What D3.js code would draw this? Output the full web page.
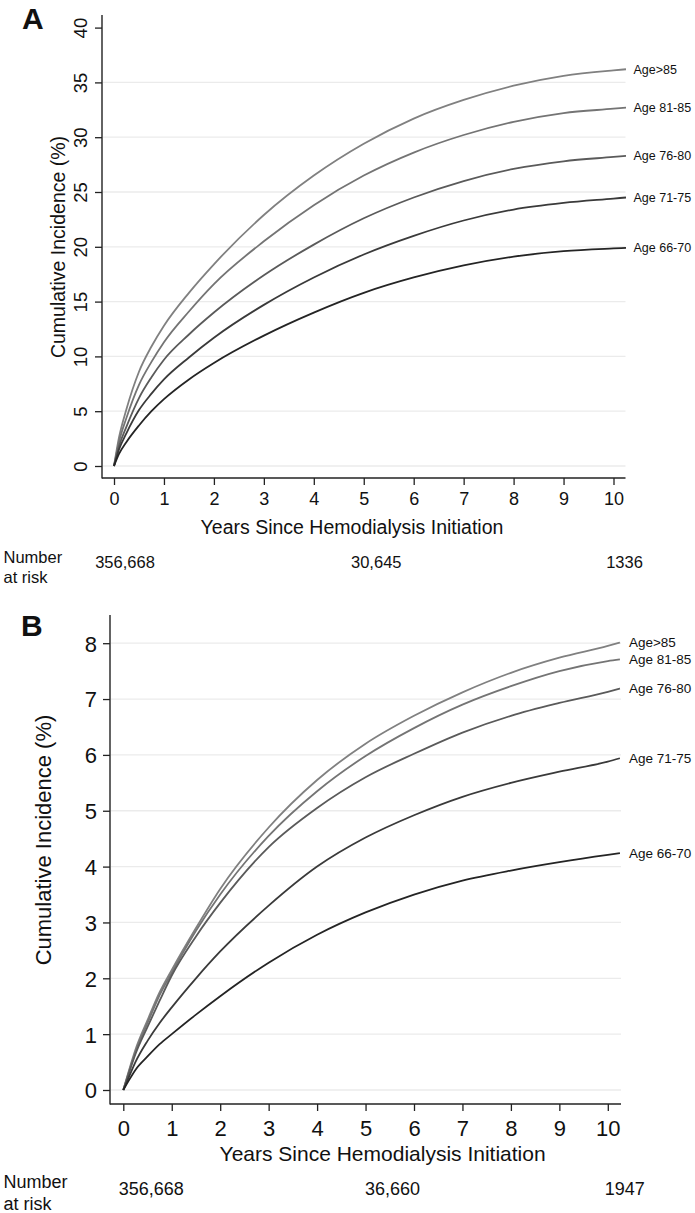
<!DOCTYPE html>
<html><head><meta charset="utf-8">
<script src="https://cdn.jsdelivr.net/npm/d3@7"></script>
<style>
body{margin:0;background:#fff}
svg{display:block}
text{font-family:"Liberation Sans",Arial,Helvetica,sans-serif;fill:#111}
</style>
</head><body>
<svg id="c" width="695" height="1213"></svg>
<script>
// ---------- DATA ----------
const years = [0, 0.1, 0.25, 0.5, 0.75, 1, 1.5, 2, 3, 4, 5, 6, 7, 8, 9, 10, 10.25];
const seriesLabels = ["Age>85", "Age 81-85", "Age 76-80", "Age 71-75", "Age 66-70"];
const xTicks = [0, 1, 2, 3, 4, 5, 6, 7, 8, 9, 10];

// Panel A (cumulative incidence %)
const aAge85   = [0, 2.6, 5.2, 8.6, 10.9, 12.8, 15.8, 18.4, 22.9, 26.5, 29.4, 31.7, 33.4, 34.7, 35.6, 36.1, 36.2];
const aAge8185 = [0, 2.2, 4.4, 7.4, 9.5, 11.3, 14.1, 16.6, 20.5, 23.8, 26.5, 28.6, 30.2, 31.4, 32.2, 32.6, 32.7];
const aAge7680 = [0, 1.8, 3.6, 6.2, 8.1, 9.7, 12.0, 14.0, 17.4, 20.2, 22.6, 24.5, 26.0, 27.1, 27.8, 28.2, 28.3];
const aAge7175 = [0, 1.5, 3.0, 5.1, 6.6, 7.9, 9.9, 11.7, 14.7, 17.2, 19.3, 21.0, 22.4, 23.4, 24.0, 24.4, 24.5];
const aAge6670 = [0, 1.1, 2.2, 3.7, 5.0, 6.1, 7.9, 9.4, 11.9, 14.0, 15.8, 17.2, 18.3, 19.1, 19.6, 19.85, 19.9];
const aYTicks = [0, 5, 10, 15, 20, 25, 30, 35, 40];
const aGrid = [0, 5, 10, 15, 20, 25, 30, 35];
const aRisk = ["356,668", "30,645", "1336"];

// Panel B (cumulative incidence %)
const bAge85   = [0, 0.3, 0.72, 1.25, 1.75, 2.15, 2.9, 3.6, 4.7, 5.55, 6.2, 6.7, 7.12, 7.47, 7.74, 7.95, 8.01];
const bAge8185 = [0, 0.28, 0.68, 1.2, 1.7, 2.1, 2.85, 3.5, 4.55, 5.35, 5.98, 6.48, 6.9, 7.23, 7.5, 7.68, 7.71];
const bAge7680 = [0, 0.26, 0.64, 1.13, 1.6, 2.05, 2.75, 3.35, 4.35, 5.05, 5.6, 6.02, 6.4, 6.7, 6.93, 7.13, 7.19];
const bAge7175 = [0, 0.2, 0.5, 0.88, 1.2, 1.48, 2.0, 2.48, 3.3, 4.0, 4.52, 4.92, 5.25, 5.5, 5.7, 5.88, 5.94];
const bAge6670 = [0, 0.15, 0.36, 0.6, 0.82, 1.0, 1.35, 1.68, 2.28, 2.78, 3.18, 3.5, 3.75, 3.93, 4.08, 4.21, 4.24];
const bYTicks = [0, 1, 2, 3, 4, 5, 6, 7, 8];
const bGrid = [0, 1, 2, 3, 4, 5, 6, 7, 8];
const bRisk = ["356,668", "36,660", "1947"];

const riskYears = [0, 5, 10];

// ---------- STYLE / LAYOUT ----------
const seriesColors = ["#808080", "#747474", "#5a5a5a", "#3a3a3a", "#242424"];

const panels = [
  {
    letter: "A", letterX: 22, letterY: 29,
    series: [aAge85, aAge8185, aAge7680, aAge7175, aAge6670],
    yDomain: [0, 40], yRange: [466, 27.6], xRange: [114, 613.5],
    frame: {left: 102, top: 15, bottom: 478, right: 625.5},
    yTicks: aYTicks, grid: aGrid, rotateY: true,
    yTickFont: 18.5, yTickBaseX: 87,
    xTickFont: 18, xTickBase: 505,
    xTitleFont: 19.5, xTitleX: 352, xTitleBase: 534,
    yTitleFont: 19.5, yTitleBaseX: 65, yTitleY: 247,
    labelFont: 12.5, labelGap: 7.5,
    risk: aRisk, riskOffsets: [11, 12.5, 11], riskFont: 16.5, riskBase: 567.5,
    numFont: 16.5, numBase1: 562.5, numBase2: 582.5
  },
  {
    letter: "B", letterX: 21, letterY: 636,
    series: [bAge85, bAge8185, bAge7680, bAge7175, bAge6670],
    yDomain: [0, 8], yRange: [1090, 643.2], xRange: [123.3, 607.8],
    frame: {left: 110, top: 615, bottom: 1104, right: 621},
    yTicks: bYTicks, grid: bGrid, rotateY: false,
    yTickFont: 22, yTickEndX: 97,
    xTickFont: 22, xTickBase: 1136,
    xTitleFont: 21, xTitleX: 382.6, xTitleBase: 1161,
    yTitleFont: 22, yTitleBaseX: 50.5, yTitleY: 840,
    labelFont: 13.5, labelGap: 9,
    risk: bRisk, riskOffsets: [28, 27, 17], riskFont: 18, riskBase: 1194.5,
    numFont: 18, numBase1: 1188, numBase2: 1209.5
  }
];

const svg = d3.select("#c");

panels.forEach(p => {
  const g = svg.append("g");
  const x = d3.scaleLinear().domain([0, 10]).range(p.xRange);
  const y = d3.scaleLinear().domain(p.yDomain).range(p.yRange);

  // grid lines
  g.selectAll("line.grid").data(p.grid).join("line")
    .attr("class", "grid")
    .attr("x1", p.frame.left + 1).attr("x2", p.frame.right)
    .attr("y1", d => y(d)).attr("y2", d => y(d))
    .attr("stroke", "#ebebeb").attr("stroke-width", 1.3);

  // curves
  const line = d3.line().x(d => x(d[0])).y(d => y(d[1])).curve(d3.curveMonotoneX);
  p.series.forEach((vals, i) => {
    const pts = years.map((t, j) => [t, vals[j]]);
    g.append("path").datum(pts)
      .attr("d", line).attr("fill", "none")
      .attr("stroke", seriesColors[i]).attr("stroke-width", 1.8)
      .attr("stroke-linejoin", "round");
    const last = pts[pts.length - 1];
    g.append("text")
      .attr("x", x(last[0]) + p.labelGap).attr("y", y(last[1]))
      .attr("dy", "0.35em")
      .attr("font-size", p.labelFont)
      .text(seriesLabels[i]);
  });

  // axis lines
  g.append("line").attr("x1", p.frame.left).attr("x2", p.frame.left)
    .attr("y1", p.frame.top).attr("y2", p.frame.bottom + 0.6)
    .attr("stroke", "#222").attr("stroke-width", 1.4);
  g.append("line").attr("x1", p.frame.left).attr("x2", p.frame.right)
    .attr("y1", p.frame.bottom).attr("y2", p.frame.bottom)
    .attr("stroke", "#222").attr("stroke-width", 1.4);

  // y axis
  const ya = g.append("g").attr("transform", `translate(${p.frame.left},0)`)
    .call(d3.axisLeft(y).tickValues(p.yTicks).tickSize(7).tickSizeOuter(0).tickFormat(d3.format("d")));
  ya.select(".domain").remove();
  ya.selectAll(".tick line").attr("stroke", "#222").attr("stroke-width", 1.3);
  ya.attr("font-family", null).attr("font-size", p.yTickFont);
  if (p.rotateY) {
    ya.selectAll(".tick text")
      .attr("x", 0).attr("y", 0).attr("dy", 0)
      .attr("text-anchor", "middle")
      .attr("fill", "#111")
      .attr("transform", `translate(${p.yTickBaseX - p.frame.left},0) rotate(-90)`);
  } else {
    ya.selectAll(".tick text")
      .attr("x", p.yTickEndX - p.frame.left).attr("dy", "0.36em")
      .attr("text-anchor", "end").attr("fill", "#111");
  }

  // x axis
  const xa = g.append("g").attr("transform", `translate(0,${p.frame.bottom})`)
    .call(d3.axisBottom(x).tickValues(xTicks).tickSize(7).tickSizeOuter(0).tickFormat(d3.format("d")));
  xa.select(".domain").remove();
  xa.selectAll(".tick line").attr("stroke", "#222").attr("stroke-width", 1.3);
  xa.attr("font-family", null).attr("font-size", p.xTickFont);
  xa.selectAll(".tick text").attr("y", p.xTickBase - p.frame.bottom).attr("dy", 0).attr("fill", "#111");

  // titles
  g.append("text").attr("x", p.xTitleX).attr("y", p.xTitleBase)
    .attr("text-anchor", "middle").attr("font-size", p.xTitleFont)
    .text("Years Since Hemodialysis Initiation");
  g.append("text")
    .attr("transform", `translate(${p.yTitleBaseX},${p.yTitleY}) rotate(-90)`)
    .attr("text-anchor", "middle").attr("font-size", p.yTitleFont)
    .text("Cumulative Incidence (%)");

  // panel letter
  g.append("text").attr("x", p.letterX).attr("y", p.letterY)
    .attr("font-size", 30).attr("font-weight", "bold").text(p.letter);

  // number at risk
  g.append("text").attr("x", 3.5).attr("y", p.numBase1).attr("font-size", p.numFont).text("Number");
  g.append("text").attr("x", 3.5).attr("y", p.numBase2).attr("font-size", p.numFont).text("at risk");
  g.selectAll("text.risk").data(p.risk).join("text")
    .attr("class", "risk")
    .attr("x", (d, i) => x(riskYears[i]) + p.riskOffsets[i])
    .attr("y", p.riskBase)
    .attr("text-anchor", "middle").attr("font-size", p.riskFont)
    .text(d => d);
});
</script>
</body></html>
